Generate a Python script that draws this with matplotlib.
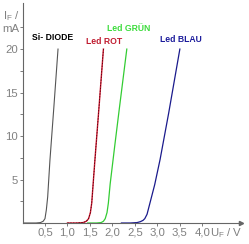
import matplotlib
matplotlib.use("Agg")
import matplotlib.pyplot as plt

plt.rcParams["font.family"] = ["Liberation Sans", "DejaVu Sans"]
plt.rcParams["mathtext.fontset"] = "custom"
plt.rcParams["mathtext.rm"] = "Liberation Sans"

# forward voltage (V) and current (mA)
si_u = [0.0, 0.30, 0.40, 0.46, 0.50, 0.53, 0.56, 0.61, 0.70, 0.79]
si_i = [0, 0, 0.05, 0.2, 0.5, 1.5, 3.0, 7.2, 13.5, 20]

rot_u = [1.0, 1.2, 1.35, 1.42, 1.47, 1.51, 1.54, 1.61, 1.70, 1.80]
rot_i = [0, 0, 0.05, 0.2, 0.5, 1.2, 2.3, 7.2, 13.2, 20]

gruen_u = [1.45, 1.65, 1.75, 1.80, 1.84, 1.88, 1.91, 1.95, 2.05, 2.15, 2.32]
gruen_i = [0, 0, 0.05, 0.2, 0.5, 1.2, 2.3, 4.5, 8.8, 13, 20]

blau_u = [2.2, 2.4, 2.55, 2.62, 2.68, 2.72, 2.77, 2.83, 2.94, 3.06, 3.25, 3.50]
blau_i = [0, 0, 0.05, 0.15, 0.3, 0.5, 1.0, 2.2, 4.4, 7.3, 12.6, 20]

x_ticks = [0.5, 1.0, 1.5, 2.0, 2.5, 3.0, 3.5, 4.0]
x_labels = ["0,5", "1,0", "1,5", "2,0", "2,5", "3,0", "3,5", "4,0"]
y_ticks = [5, 10, 15, 20]
y_minor = [2.5, 7.5, 12.5, 17.5, 22.5]

fig = plt.figure(figsize=(2.49, 2.44), dpi=100)
ax = fig.add_axes([22.5 / 249, 21 / 244, 218.5 / 249, 220 / 244])

ax.plot(si_u, si_i, color="#555555", lw=0.8)
ax.plot(rot_u, rot_i, color="#d01830", lw=1.0)
ax.plot(rot_u, rot_i, color="#3a0008", lw=0.5, dashes=(2, 2))
ax.plot(gruen_u, gruen_i, color="#33cc33", lw=0.9)
ax.plot(blau_u, blau_i, color="#1a1a8c", lw=0.9)

ax.set_xlim(0, 4.86)
ax.set_ylim(0, 25.3)

for s in ["top", "right"]:
    ax.spines[s].set_visible(False)
for s in ["left", "bottom"]:
    ax.spines[s].set_color("#666666")
    ax.spines[s].set_linewidth(0.8)
ax.plot(1, 0, ">", color="#666666", ms=3, transform=ax.transAxes, clip_on=False)

ax.set_xticks(x_ticks)
ax.set_xticklabels(x_labels)
ax.set_yticks(y_ticks)
ax.set_yticks(y_minor, minor=True)
ax.tick_params(axis="both", which="both", colors="#666666", length=2.5, width=0.6,
               labelsize=8.2, labelcolor="#808080", pad=0.8)

ax.text(4.9, -1.5, "U$_\\mathrm{F}$ / V", fontsize=8.2, color="#808080",
        ha="right", va="baseline", clip_on=False)
ax.text(-0.44, 23.8, "I$_\\mathrm{F}$ /", fontsize=8.2, color="#808080",
        ha="left", va="center", clip_on=False)
ax.text(-0.46, 22.3, "mA", fontsize=8.2, color="#808080",
        ha="left", va="center", clip_on=False)

ax.text(0.21, 21.3, "Si- DIODE", fontsize=6.2, fontweight="bold", color="black", va="center")
ax.text(1.41, 20.9, "Led ROT", fontsize=6.2, fontweight="bold", color="#c01c30", va="center")
ax.text(1.88, 22.4, "Led GRÜN", fontsize=6.2, fontweight="bold", color="#3ddc3d", va="center")
ax.text(3.06, 21.1, "Led BLAU", fontsize=6.2, fontweight="bold", color="#1c1c9c", va="center")

fig.savefig("out.png", dpi=100)
